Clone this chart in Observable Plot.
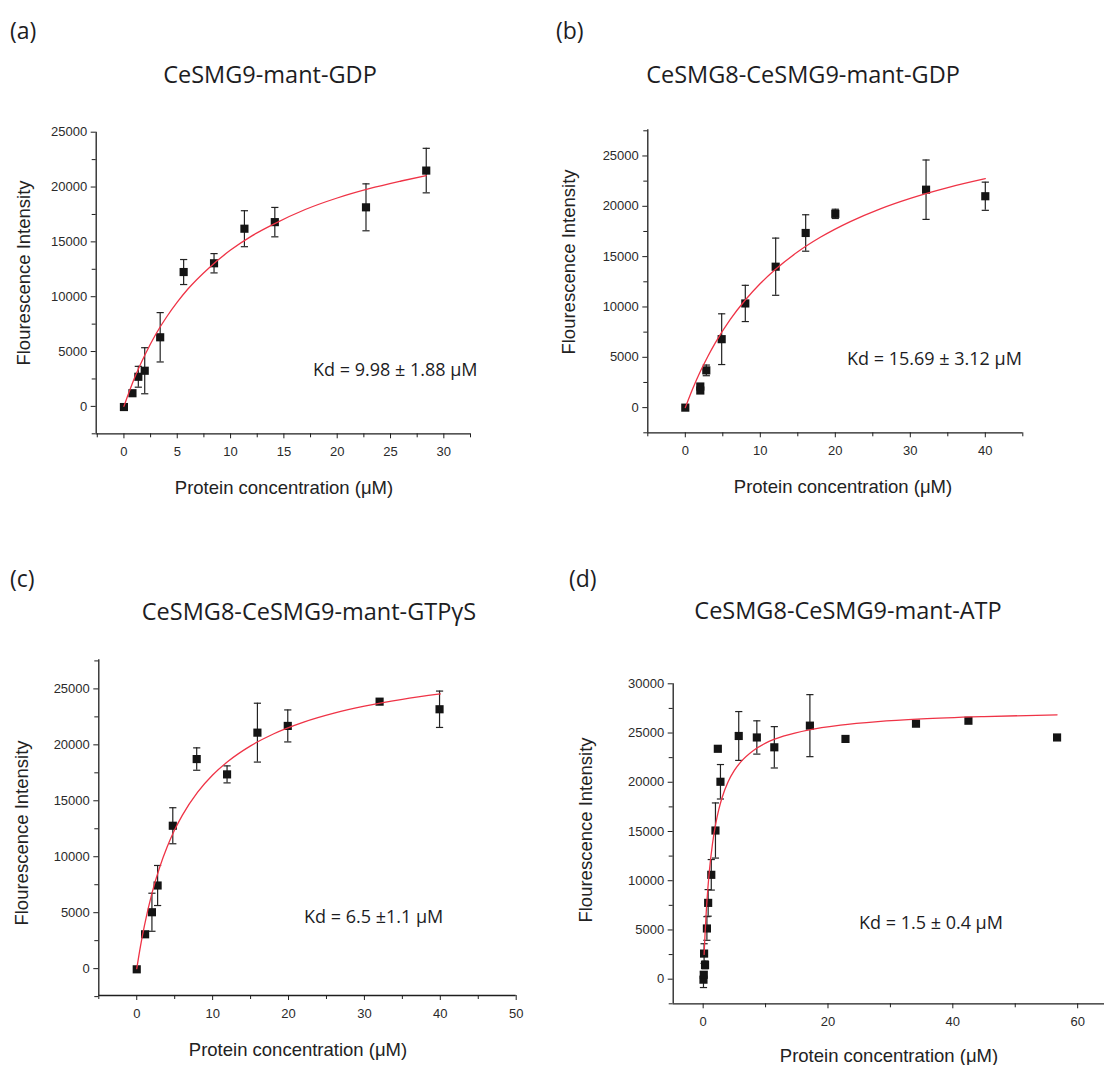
<!DOCTYPE html>
<html><head><meta charset="utf-8">
<script src="https://cdn.jsdelivr.net/npm/d3@7"></script>
<script src="https://cdn.jsdelivr.net/npm/@observablehq/plot@0.6"></script>
<style>
body{margin:0;background:#fff;}
#root{position:relative;width:1104px;height:1065px;overflow:hidden;background:#fff;}
.t{position:absolute;white-space:nowrap;line-height:1;color:#1d1d1f;}
.myr{font-family:"Open Sans",sans-serif;}
.letter{font-size:23px;}
.title{font-size:23.5px;}
.kd{font-size:18px;}
.ax{font-family:"Liberation Sans",Arial,sans-serif;font-size:18.5px;color:#222;}
.panel{position:absolute;}
</style></head><body><div id="root"></div>
<script>
// ---------- data ----------
// (a) CeSMG9-mant-GDP
const aX   = [0, 0.8, 1.35, 1.95, 3.4, 5.6, 8.45, 11.3, 14.15, 22.7, 28.35];
const aY   = [-60, 1200, 2700, 3250, 6300, 12250, 13050, 16200, 16800, 18150, 21500];
const aErr = [0, 0, 950, 2100, 2250, 1140, 880, 1640, 1340, 2140, 2030];
const aFitX = [0, 1, 2, 3, 4, 5, 6, 8, 10, 12, 14, 17, 20, 23, 26, 28.35];
const aFitY = [0, 2600, 4750, 6600, 8150, 9500, 10700, 12650, 14250, 15550, 16600, 17950, 19000, 19850, 20550, 21050];

// (b) CeSMG8-CeSMG9-mant-GDP
const bX   = [0, 2, 2, 2.8, 4.85, 8, 12.05, 16.05, 20, 32.1, 40];
const bY   = [0, 1700, 2100, 3700, 6800, 10350, 14000, 17350, 19250, 21650, 21000];
const bErr = [0, 0, 0, 530, 2520, 1800, 2840, 1810, 460, 2950, 1400];
const bFitX = [0, 1, 2, 3, 4, 6, 8, 10, 12, 15, 18, 22, 26, 30, 35, 40];
const bFitY = [0, 1900, 3580, 5080, 6430, 8760, 10690, 12330, 13720, 15480, 16920, 18480, 19750, 20790, 21860, 22740];

// (c) CeSMG8-CeSMG9-mant-GTPγS
const cX   = [0, 1.1, 2, 2.75, 4.75, 7.9, 11.9, 15.9, 19.9, 32, 39.9];
const cY   = [-60, 3070, 5040, 7430, 12770, 18730, 17360, 21090, 21690, 23860, 23180];
const cErr = [0, 0, 1700, 1790, 1610, 1000, 760, 2630, 1430, 0, 1625];
const cFitX = [0, 0.5, 1, 2, 3, 4, 5, 6, 8, 10, 12, 15, 18, 22, 26, 30, 35, 40];
const cFitY = [0, 2040, 3800, 6720, 9010, 10870, 12410, 13700, 15750, 17300, 18510, 19910, 20970, 22030, 22830, 23460, 24070, 24550];

// (d) CeSMG8-CeSMG9-mant-ATP
const dX   = [0.05, 0.1, 0.3, 0.15, 0.6, 0.8, 1.3, 1.97, 2.35, 2.77, 5.7, 8.6, 11.4, 17.1, 22.8, 34.1, 42.5, 56.7];
const dY   = [-50, 450, 1450, 2600, 5150, 7750, 10600, 15100, 23400, 20050, 24700, 24550, 23550, 25750, 24400, 25950, 26250, 24550];
const dErr = [800, 0, 400, 1000, 1200, 1350, 1550, 2800, 0, 1750, 2480, 1690, 2100, 3150, 0, 0, 0, 0];
const dFitX = [0.15, 0.3, 0.5, 0.75, 1, 1.5, 2, 2.5, 3, 4, 5, 6, 8, 10, 13, 17, 22, 28, 35, 45, 56.7];
const dFitY = [2510, 4590, 6890, 9190, 11030, 13780, 15750, 17230, 18380, 20050, 21200, 22050, 23210, 23970, 24710, 25330, 25800, 26160, 26430, 26670, 26850];

// ticks
const aXMajor = [0, 5, 10, 15, 20, 25, 30];
const aXMinor = [-2.5, 2.5, 7.5, 12.5, 17.5, 22.5, 27.5, 32.5];
const bXMajor = [0, 10, 20, 30, 40];
const bXMinor = [-5, 5, 15, 25, 35, 45];
const cXMajor = [0, 10, 20, 30, 40, 50];
const cXMinor = [-5, 5, 15, 25, 35, 45];
const dXMajor = [0, 20, 40, 60];
const dXMinor = [10, 30, 50];
const yMajor25 = [0, 5000, 10000, 15000, 20000, 25000];
const yMinor25 = [-2500, 2500, 7500, 12500, 17500, 22500, 27500];
const yMajor30 = [0, 5000, 10000, 15000, 20000, 25000, 30000];
const yMinor30 = [-2500, 2500, 7500, 12500, 17500, 22500, 27500];

// texts
const titles = ["CeSMG9-mant-GDP", "CeSMG8-CeSMG9-mant-GDP", "CeSMG8-CeSMG9-mant-GTPγS", "CeSMG8-CeSMG9-mant-ATP"];
const letters = ["(a)", "(b)", "(c)", "(d)"];
const kdLabels = ["Kd = 9.98 ± 1.88 μM", "Kd = 15.69 ± 3.12 μM", "Kd = 6.5 ±1.1 μM", "Kd = 1.5 ± 0.4 μM"];
const yLabel = "Flourescence Intensity";
const xLabel = "Protein concentration (μM)";

// ---------- drawing ----------
const root = document.getElementById("root");
const cap = {draw(ctx, size) { const w = Math.sqrt(size / Math.PI); ctx.moveTo(-w, 0); ctx.lineTo(w, 0); }};
const fmt = d3.format("d");

function panel(o) {
  const pts = o.xs.map((x, i) => ({x, y: o.ys[i], e: o.es[i]}));
  const bars = pts.filter(d => d.e > 0);
  const fit = o.fx.map((x, i) => ({x, y: o.fy[i]}));
  const ink = "#1e1e1e";
  const chart = Plot.plot({
    width: o.width, height: o.height,
    marginLeft: o.mL, marginRight: o.mR, marginTop: o.mT, marginBottom: o.mB,
    x: {domain: o.xDomain, label: null},
    y: {domain: o.yDomain, label: null},
    style: {fontFamily: '"Liberation Sans", Arial, sans-serif', fontSize: "13px", color: "#2a2a2a", background: "transparent", overflow: "visible"},
    marks: [
      Plot.ruleX([o.xDomain[0]], {stroke: ink, strokeWidth: 1.3}),
      Plot.ruleY([o.yDomain[0]], {stroke: ink, strokeWidth: 1.3}),
      Plot.axisY({ticks: o.yMajor, tickSize: 5, tickPadding: 4, tickFormat: fmt, stroke: ink}),
      Plot.axisY({ticks: o.yMinor, tickSize: 4, tickFormat: () => "", stroke: ink}),
      Plot.axisX({ticks: o.xMajor, tickSize: 5, tickPadding: 8, tickFormat: fmt, stroke: ink}),
      Plot.axisX({ticks: o.xMinor, tickSize: 4, tickFormat: () => "", stroke: ink}),
      Plot.ruleX(bars, {x: "x", y1: d => d.y - d.e, y2: d => d.y + d.e, stroke: "#222", strokeWidth: 1.2}),
      Plot.dot(bars, {x: "x", y: d => d.y - d.e, symbol: cap, r: 3.6, stroke: "#222", strokeWidth: 1.2, fill: "none"}),
      Plot.dot(bars, {x: "x", y: d => d.y + d.e, symbol: cap, r: 3.6, stroke: "#222", strokeWidth: 1.2, fill: "none"}),
      Plot.dot(pts, {x: "x", y: "y", symbol: "square", r: 4.6, fill: "#141414", stroke: "none"}),
      Plot.line(fit, {x: "x", y: "y", stroke: "#ef3346", strokeWidth: 1.3, curve: "monotone-x"})
    ]
  });
  chart.classList.add("panel");
  chart.style.left = o.left + "px";
  chart.style.top = o.top + "px";
  root.appendChild(chart);
}

function text(str, cls, x, y, anchor = "center", rotate = 0) {
  const el = document.createElement("div");
  el.className = "t " + cls;
  el.textContent = str;
  el.style.left = x + "px";
  el.style.top = y + "px";
  const tx = anchor === "left" ? "0" : "-50%";
  el.style.transform = `translate(${tx}, -50%)` + (rotate ? ` rotate(${rotate}deg)` : "");
  root.appendChild(el);
}

panel({xs: aX, ys: aY, es: aErr, fx: aFitX, fy: aFitY, xDomain: [-2.6, 32.5], yDomain: [-2500, 25000],
  xMajor: aXMajor, xMinor: aXMinor, yMajor: yMajor25, yMinor: yMinor25.filter(v => v < 25000),
  left: 0, top: 100, width: 490, height: 370, mL: 95.7, mR: 20, mT: 31.7, mB: 36.7});
panel({xs: bX, ys: bY, es: bErr, fx: bFitX, fy: bFitY, xDomain: [-5, 45], yDomain: [-2500, 27600],
  xMajor: bXMajor, xMinor: bXMinor, yMajor: yMajor25, yMinor: yMinor25,
  left: 540, top: 100, width: 500, height: 370, mL: 107.3, mR: 17.7, mT: 29.3, mB: 37.7});
panel({xs: cX, ys: cY, es: cErr, fx: cFitX, fy: cFitY, xDomain: [-5, 50], yDomain: [-2400, 27600],
  xMajor: cXMajor, xMinor: cXMinor, yMajor: yMajor25, yMinor: yMinor25,
  left: 0, top: 640, width: 540, height: 400, mL: 98.3, mR: 24.3, mT: 19.3, mB: 45});
panel({xs: dX, ys: dY, es: dErr, fx: dFitX, fy: dFitY, xDomain: [-4.8, 64.3], yDomain: [-2500, 30000],
  xMajor: dXMajor, xMinor: dXMinor, yMajor: yMajor30, yMinor: yMinor30,
  left: 560, top: 640, width: 544, height: 400, mL: 112.7, mR: 0, mT: 43.3, mB: 36.7});

// panel letters
text(letters[0], "myr letter", 10, 30, "left");
text(letters[1], "myr letter", 556, 30, "left");
text(letters[2], "myr letter", 10, 578, "left");
text(letters[3], "myr letter", 569, 578, "left");
// titles
text(titles[0], "myr title", 270, 75);
text(titles[1], "myr title", 803, 75);
text(titles[2], "myr title", 309, 612);
text(titles[3], "myr title", 848, 611);
// Kd annotations
text(kdLabels[0], "myr kd", 313, 369, "left");
text(kdLabels[1], "myr kd", 847, 358, "left");
text(kdLabels[2], "myr kd", 304, 916, "left");
text(kdLabels[3], "myr kd", 859, 922, "left");
// axis labels
text(yLabel, "ax", 23.5, 273, "center", -90);
text(yLabel, "ax", 569, 262, "center", -90);
text(yLabel, "ax", 22, 833, "center", -90);
text(yLabel, "ax", 586, 830, "center", -90);
text(xLabel, "ax", 284, 488);
text(xLabel, "ax", 843, 487);
text(xLabel, "ax", 298, 1050);
text(xLabel, "ax", 889, 1056);
</script>
</body></html>
